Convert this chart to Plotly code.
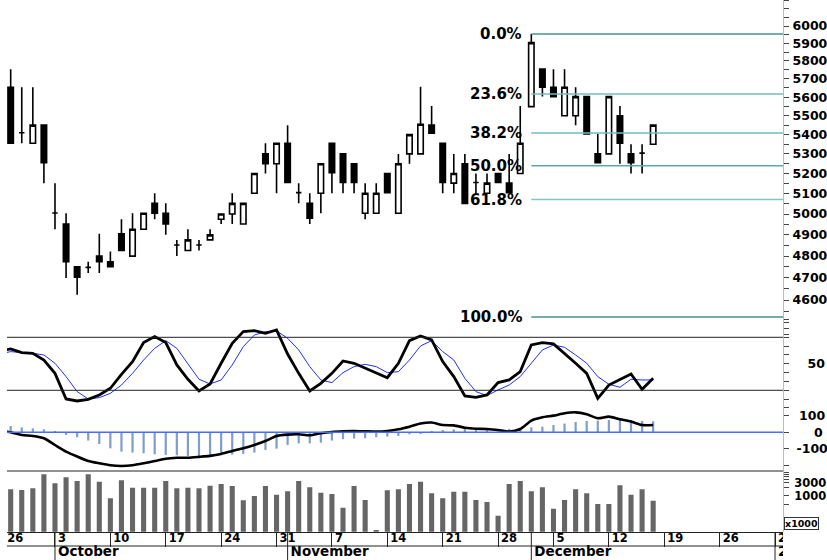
import numpy as np
import pandas as pd
import plotly.graph_objects as go

# ---------------- data ----------------
calendar = pd.bdate_range("2005-09-26", "2006-01-06")          # weekday calendar of the x axis
candle_dates = pd.bdate_range("2005-09-27", "2005-12-16")
ind_dates = pd.bdate_range("2005-09-26", "2005-12-16")

opens = [5654, 5410, 5355, 5450, 5005, 4952, 4751, 4748, 4800, 4774,
         4905, 4800, 4927, 5052, 5004, 4852, 4826, 4852, 4876, 4975,
         5000, 4952, 5102, 5300, 5250, 5355, 5105, 5052, 5102, 5355,
         5300, 5250, 5004, 5004, 5200, 5004, 5300, 5300, 5450, 5355,
         5152, 5250, 5155, 5102, 5200, 5152, 5200, 5549, 5754, 5654,
         5500, 5500, 5603, 5300, 5300, 5500, 5300, 5304, 5350]
highs = [5754, 5654, 5654, 5450, 5152, 5004, 4751, 4774, 4905, 4821,
         4975, 5004, 5004, 5102, 5052, 4876, 4927, 4876, 4927, 5000,
         5102, 5052, 5200, 5355, 5355, 5450, 5152, 5102, 5250, 5355,
         5300, 5250, 5152, 5152, 5200, 5300, 5400, 5657, 5552, 5355,
         5300, 5300, 5200, 5200, 5200, 5300, 5552, 5954, 5754, 5754,
         5754, 5654, 5603, 5404, 5603, 5552, 5350, 5350, 5450]
lows = [5355, 5355, 5355, 5152, 4927, 4699, 4623, 4722, 4722, 4748,
        4826, 4800, 4927, 4975, 4900, 4800, 4826, 4826, 4876, 4952,
        4952, 4952, 5102, 5200, 5102, 5155, 5052, 4952, 5004, 5102,
        5102, 5102, 4975, 5004, 5105, 5004, 5250, 5300, 5408, 5102,
        5102, 5052, 5102, 5102, 5155, 5105, 5200, 5549, 5603, 5603,
        5500, 5450, 5404, 5255, 5300, 5250, 5200, 5200, 5350]
closes = [5355, 5410, 5450, 5255, 5005, 4774, 4703, 4748, 4774, 4751,
          4826, 4927, 5004, 5004, 4952, 4852, 4876, 4852, 4900, 5000,
          5052, 5052, 5200, 5250, 5355, 5155, 5105, 4980, 5250, 5205,
          5155, 5155, 5102, 5102, 5105, 5250, 5400, 5455, 5408, 5155,
          5200, 5052, 5155, 5152, 5155, 5105, 5355, 5904, 5654, 5603,
          5654, 5603, 5404, 5255, 5603, 5355, 5255, 5304, 5450]
volume = [1735, 1638, 1885, 5960, 2840, 4660, 3430, 5960, 3240, 828,
          3640, 1980, 1980, 1980, 3430, 1885, 1980, 1885, 2335, 2680,
          2275, 702, 1000, 2275, 1112, 1470, 3430, 2045, 1313, 1179,
          382, 2275, 720, 61, 1600, 1750, 2680, 3240, 1250, 828,
          1425, 1425, 720, 610, 198, 2680, 3430, 1470, 2045, 351,
          720, 1735, 1250, 518, 518, 2410, 1112, 1735, 680]      # x1000

stoch_k = [64.5, 66.8, 62.6, 61.9, 54.3, 39.2, 10.2, 7.9, 9.8, 14.7,
           22.3, 38.1, 52.5, 74, 80.8, 74, 48.7, 32.5, 19.2, 27.2,
           50.6, 73.2, 86.4, 87.5, 84.5, 88.3, 61.1, 39.2, 19.2, 27.9,
           39.2, 53.2, 50.6, 44.9, 39.2, 34.3, 50.6, 76.2, 81.5, 77,
           52.5, 35.5, 13.6, 12.1, 14.7, 28.7, 31.7, 41.1, 71.3, 74,
           72.5, 61.9, 50.6, 39.2, 10.9, 26, 32.5, 38.5, 21.1, 33.6]
stoch_d = [61.1, 63.8, 62.6, 61.9, 60, 50.6, 35.5, 18.5, 10.2, 11.7,
           16.6, 26, 39.2, 54.3, 67.5, 76.2, 67.5, 50.6, 32.5, 27.2,
           31.7, 48.7, 69.4, 82.6, 86.4, 87.2, 78.9, 65.7, 46.8, 31.7,
           28.7, 40, 46.8, 49.4, 46.8, 40, 41.1, 54.3, 70.2, 76.2,
           63.8, 54.3, 33.6, 18.5, 14, 20.4, 26, 35.5, 50.6, 65.7,
           71.3, 68.7, 60, 50.6, 35.5, 26.8, 23.4, 32.5, 31.7, 31.7]
macd = [10, 0, -16, -22, -36, -77, -117, -147, -174, -188,
        -200, -204, -200, -188, -174, -160, -154, -154, -149, -143,
        -131, -113, -97, -77, -53, -22, -14, -12, -18, -6,
        2, 6, 8, 6, 4, 8, 18, 34, 53, 59,
        44, 42, 28, 22, 20, 14, 4, 20, 71, 91,
        101, 115, 121, 109, 85, 95, 79, 65, 44, 44]
macd_hist = [40, 38, 30, 24, 18, 4, -16, -30, -50, -71,
             -97, -117, -123, -127, -133, -137, -139, -143, -143, -139,
             -137, -135, -131, -123, -107, -99, -77, -67, -67, -63,
             -50, -42, -38, -36, -30, -26, -22, -12, -6, 2,
             14, 18, 22, 22, 20, 16, 20, 22, 30, 34,
             44, 53, 63, 69, 71, 75, 75, 73, 69, 67]

fib_high = 5954
fib_low = 4525
fib_ratios = [0.0, 0.236, 0.382, 0.5, 0.618, 1.0]
fib_labels = ["0.0%", "23.6%", "38.2%", "50.0%", "61.8%", "100.0%"]
fib_colors = ["#3f9595", "#72bcbc", "#72bcbc", "#5aa9a9", "#80c4c4", "#4a8e8e"]

price_ticks = list(range(4450, 6151, 50))
price_labels = [str(v) if (v % 100 == 0 and 4600 <= v <= 6000) else "" for v in price_ticks]
stoch_ticks = list(range(0, 101, 10))
stoch_labels = ["50" if v == 50 else "" for v in stoch_ticks]
stoch_levels = [80, 20]
macd_ticks = [-200, -100, 0, 100]
macd_labels = ["", "-100", "\u2007\u20070", "\u2009100"]
vol_ticks = [500, 1000, 2000, 3000, 4000, 5000, 6000, 7000]
vol_labels = ["", "1000", "", "3000", "", "", "", ""]
month_labels = ["October", "November", "December", "2006"]
month_starts = ["2005-10-03", "2005-11-01", "2005-12-01", "2006-01-02"]

# ---------------- positions on the weekday axis ----------------
pos = {d: k for k, d in enumerate(calendar)}
xc = [pos[d] for d in candle_dates]
xi = [pos[d] for d in ind_dates]
mondays = [pos[d] for d in calendar if d.weekday() == 0]
week_labels = [str(d.day) for d in calendar if d.weekday() == 0]
month_x = [pos[pd.Timestamp(m)] for m in month_starts]

# ---------------- layout geometry ----------------
W, H = 827, 560
ML, MR = 7, 44
x_left, x_right = 0.668, 70.72
lab_off = 0.27                      # label offset right of a tick, in days


def frac(px):
    return 1 - px / H


price_dom = [frac(337), 1.0]
stoch_dom = [frac(410), frac(319)]
macd_dom = [frac(471), frac(405)]
vol_dom = [frac(531.7), frac(471)]
date_dom = [0.0, frac(531.7)]

FONT = "DejaVu Sans"


def tfont(size):
    return dict(family=FONT, size=size, color="black", weight="bold")


fig = go.Figure()

# price candles
fig.add_trace(go.Candlestick(
    x=xc, open=opens, high=highs, low=lows, close=closes,
    increasing=dict(line=dict(color="black", width=1.6), fillcolor="white"),
    decreasing=dict(line=dict(color="black", width=1.6), fillcolor="black"),
    whiskerwidth=0, xaxis="x", yaxis="y", hoverinfo="skip", showlegend=False))

# fibonacci retracement lines
hi_idx = xc[int(np.argmax(highs))]
fib_prices = [fib_high - r * (fib_high - fib_low) for r in fib_ratios]
for p, c in zip(fib_prices, fib_colors):
    fig.add_trace(go.Scatter(x=[hi_idx, x_right], y=[p, p], mode="lines",
                             line=dict(color=c, width=1.5), xaxis="x", yaxis="y",
                             hoverinfo="skip", showlegend=False))

annotations = []
for p, lab in zip(fib_prices, fib_labels):
    annotations.append(dict(x=hi_idx, y=np.log10(p), xref="x", yref="y", text=lab,
                            showarrow=False, xanchor="right", yanchor="middle",
                            xshift=-7, font=tfont(15)))

# stochastic
fig.add_trace(go.Scatter(x=xi, y=stoch_d, mode="lines", line=dict(color="#2030ff", width=1),
                         xaxis="x", yaxis="y2", hoverinfo="skip", showlegend=False))
fig.add_trace(go.Scatter(x=xi, y=stoch_k, mode="lines", line=dict(color="black", width=2.8),
                         xaxis="x", yaxis="y2", hoverinfo="skip", showlegend=False))

# MACD
fig.add_trace(go.Bar(x=xi, y=macd_hist, width=0.2, marker=dict(color="#7f9fc9", line=dict(width=0)),
                     xaxis="x", yaxis="y3", hoverinfo="skip", showlegend=False))
fig.add_trace(go.Scatter(x=xi, y=macd, mode="lines", line=dict(color="black", width=2.6, shape="spline", smoothing=0.6),
                         xaxis="x", yaxis="y3", hoverinfo="skip", showlegend=False))

# volume
fig.add_trace(go.Bar(x=xc, y=volume, width=0.46, marker=dict(color="#666666", line=dict(width=0)),
                     xaxis="x", yaxis="y4", hoverinfo="skip", showlegend=False))

# date rows
week_x = [max(m + lab_off, x_left + 0.02) for m in mondays]
fig.add_trace(go.Scatter(x=week_x, y=[-7.4] * len(week_x), mode="text", text=week_labels,
                         textposition="middle right", textfont=tfont(11.5), cliponaxis=True,
                         xaxis="x", yaxis="y5", hoverinfo="skip", showlegend=False))
fig.add_trace(go.Scatter(x=[m + lab_off for m in month_x], y=[-21.4] * len(month_x), mode="text",
                         text=month_labels, textposition="middle right", textfont=tfont(13.5),
                         cliponaxis=True, xaxis="x", yaxis="y5", hoverinfo="skip", showlegend=False))

shapes = []
for lv in stoch_levels:
    shapes.append(dict(type="line", xref="paper", yref="y2", x0=0, x1=1, y0=lv, y1=lv,
                       line=dict(color="#222222", width=1)))
shapes.append(dict(type="line", xref="paper", yref="y3", x0=0, x1=1, y0=0, y1=0,
                   line=dict(color="#4a6cf0", width=1.5)))
shapes.append(dict(type="line", xref="paper", yref="paper", x0=0, x1=1, y0=vol_dom[1], y1=vol_dom[1],
                   line=dict(color="#222222", width=1)))
shapes.append(dict(type="line", xref="paper", yref="y5", x0=0, x1=1, y0=-14.3, y1=-14.3,
                   line=dict(color="#222222", width=1)))
for m in month_x:
    shapes.append(dict(type="line", xref="x", yref="y5", x0=m, x1=m, y0=0, y1=-28.3,
                       line=dict(color="#222222", width=1)))

annotations.append(dict(x=1, y=vol_dom[0], xref="paper", yref="paper", text="x1000",
                        showarrow=False, xanchor="left", yanchor="bottom", xshift=1, yshift=2,
                        font=tfont(9.5), bordercolor="#333333", borderwidth=1, borderpad=0,
                        bgcolor="white"))

yax_common = dict(side="right", anchor="x", showgrid=False, zeroline=False, ticks="outside",
                  ticklen=5, tickwidth=1, tickcolor="#444444", showline=True,
                  linecolor="#bbbbbb", linewidth=1, fixedrange=True, automargin=False)

fig.update_layout(
    width=W, height=H,
    margin=dict(l=ML, r=MR, t=0, b=0, autoexpand=False),
    paper_bgcolor="white", plot_bgcolor="white",
    showlegend=False,
    xaxis=dict(domain=[0, 1], range=[x_left, x_right], anchor="free", position=vol_dom[0],
               showline=True, linecolor="#222222", linewidth=1, ticks="outside", ticklen=14,
               tickcolor="#222222", tickvals=mondays, showticklabels=False, showgrid=False,
               zeroline=False, rangeslider=dict(visible=False), fixedrange=True, automargin=False),
    yaxis=dict(domain=price_dom, type="log",
               range=[3.7891 - 337 / 2374.5, 3.7891],
               tickvals=price_ticks, ticktext=price_labels, tickfont=tfont(12.5),
               ticklabelstandoff=1, **yax_common),
    yaxis2=dict(domain=stoch_dom, range=[-2.31, 100.72], tickvals=stoch_ticks,
                ticktext=stoch_labels, tickfont=tfont(12.5), ticklabelstandoff=16, **yax_common),
    yaxis3=dict(domain=macd_dom, range=[-234.5, 165.5], tickvals=macd_ticks,
                ticktext=macd_labels, tickfont=tfont(12.5), ticklabelstandoff=5, **yax_common),
    yaxis4=dict(domain=vol_dom, type="log", range=[1.724, 3.893], tickvals=vol_ticks,
                ticktext=vol_labels, tickfont=tfont(11.5), ticklabelstandoff=3, **yax_common),
    yaxis5=dict(domain=date_dom, range=[-28.3, 0], anchor="x", visible=False, fixedrange=True),
    shapes=shapes,
    annotations=annotations,
)

fig.write_html("out.html", config={"displayModeBar": False},
               post_script="document.body.style.margin='0px';document.body.style.overflow='hidden';")
